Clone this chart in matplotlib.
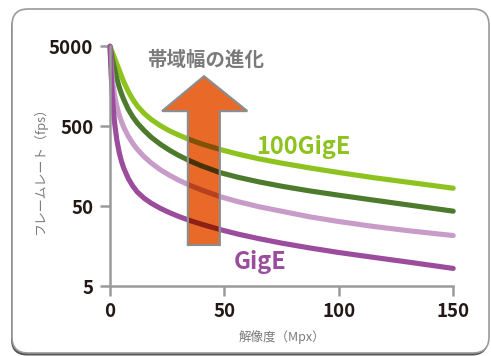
import matplotlib
matplotlib.use('Agg')
import matplotlib.pyplot as plt
from matplotlib.patches import FancyBboxPatch, Polygon
from matplotlib.colors import to_rgb

plt.rcParams['font.family'] = ['Noto Sans CJK JP', 'DejaVu Sans']

# data (log scale fps vs resolution in Mpx)
resolution = [0, 0.5, 1, 1.5, 2, 3, 4, 5, 6, 8, 10, 12, 15, 18, 22, 26, 30, 35, 40,
              48, 56, 65, 75, 87, 100, 115, 130, 150]
fps_100gige = [5000, 4590, 4220, 3880, 3560, 3000, 2530, 2130, 1800, 1360, 1080, 893, 720, 609,
               509, 439, 388, 339, 301, 257, 224, 196, 173, 151, 132, 114, 100, 84]
fps_mid_high = [5000, 4180, 3520, 3000, 2590, 1970, 1560, 1280, 1080, 814, 653, 546, 440, 365,
                298, 251, 216, 184, 160, 132, 115, 101, 89, 78, 68.7, 59.8, 52.1, 43.4]
fps_mid_low = [5000, 2820, 1970, 1510, 1220, 888, 697, 574, 487, 375, 304, 256, 207, 174,
               143, 122, 106, 91, 80, 66, 57, 49.4, 43.3, 37, 32.2, 28, 24.8, 21.5]
fps_gige = [5000, 2250, 1230, 786, 554, 336, 237, 183, 150, 111, 89, 75, 62.7, 54.6,
            47.1, 41.6, 37.3, 33.1, 29.8, 25.6, 22.4, 19.7, 17.3, 15.1, 13.2, 11.5, 10.05, 8.35]

series = [fps_100gige, fps_mid_high, fps_mid_low, fps_gige]
colors = ['#8dc21f', '#4e7a2e', '#c89bc9', '#9b4c9c']
orange = '#e96a28'

x_ticks = [0, 50, 100, 150]
y_ticks = [5, 50, 500, 5000]

fig = plt.figure(figsize=(4.91, 3.56), dpi=100)

# rounded frame with shadow
shadow = FancyBboxPatch((0.11, 0.005), 4.77, 3.43, boxstyle='round,pad=0,rounding_size=0.16',
                        transform=fig.dpi_scale_trans, facecolor='#555555', edgecolor='none', zorder=-2)
box = FancyBboxPatch((0.12, 0.03), 4.77, 3.44, boxstyle='round,pad=0,rounding_size=0.16',
                     transform=fig.dpi_scale_trans, facecolor='white', edgecolor='#9a9a9a', lw=1.2, zorder=-1)
fig.patches.extend([shadow, box])

ax = fig.add_axes([0.224, 0.196, 0.699, 0.674])
ax.set_zorder(2)
ax.set_facecolor('none')
ax.set_yscale('log')
ax.set_xlim(0, 150)
ax.set_ylim(5, 5000)

for vals, c in zip(series, colors):
    ax.plot(resolution, vals, color=c, lw=3.7, solid_capstyle='round',
            solid_joinstyle='round', clip_on=False, zorder=2)

# arrow in axes coords
arrow_pts = [(0.227, 0.172), (0.227, 0.730), (0.152, 0.730), (0.274, 0.875),
             (0.400, 0.730), (0.320, 0.730), (0.320, 0.172)]
arrow = Polygon(arrow_pts, closed=True, transform=ax.transAxes, facecolor=orange,
                edgecolor='none', zorder=3)
ax.add_patch(arrow)

# lines seen through the arrow (multiply blend)
o = to_rgb(orange)
for vals, c in zip(series, colors):
    rgb = to_rgb(c)
    mult = tuple(a * b for a, b in zip(rgb, o))
    ln, = ax.plot(resolution, vals, color=mult, lw=3.7, solid_joinstyle='round', zorder=4)
    ln.set_clip_path(arrow)

outline = Polygon(arrow_pts, closed=True, transform=ax.transAxes, facecolor='none',
                  edgecolor='#8c8c8c', lw=1.6, zorder=5)
ax.add_patch(outline)

for s in ['top', 'right']:
    ax.spines[s].set_visible(False)
for s in ['left', 'bottom']:
    ax.spines[s].set_color('#9a9a9a')
    ax.spines[s].set_linewidth(1.8)

ax.set_xticks(x_ticks)
ax.set_xticklabels([str(t) for t in x_ticks])
ax.set_yticks(y_ticks)
ax.set_yticklabels([str(t) for t in y_ticks])
ax.minorticks_off()
ax.tick_params(axis='both', length=7, width=1.8, color='#9a9a9a', labelsize=13.5,
               labelcolor='#231815')
ax.tick_params(axis='y', pad=5)
ax.tick_params(axis='x', pad=4)
for lab in ax.get_xticklabels() + ax.get_yticklabels():
    lab.set_fontweight('bold')

ax.set_xlabel('解像度（Mpx）', fontsize=9, color='#7a7a7a', labelpad=7)
fig.text(40 / 491, 1 - 168 / 356, 'フレームレート（fps）', rotation=90, fontsize=9.3,
         color='#7a7a7a', ha='center', va='center')

fig.text(206 / 491, 1 - 60 / 356, '帯域幅の進化', fontsize=14, fontweight='bold',
         color='#7a7a7a', ha='center', va='center')
fig.text(303 / 491, 1 - 147 / 356, '100GigE', fontsize=17, fontweight='bold',
         color='#8dc21f', ha='center', va='center')
fig.text(260 / 491, 1 - 262 / 356, 'GigE', fontsize=17, fontweight='bold',
         color='#9b4c9c', ha='center', va='center')

fig.savefig('out.png', dpi=100)
